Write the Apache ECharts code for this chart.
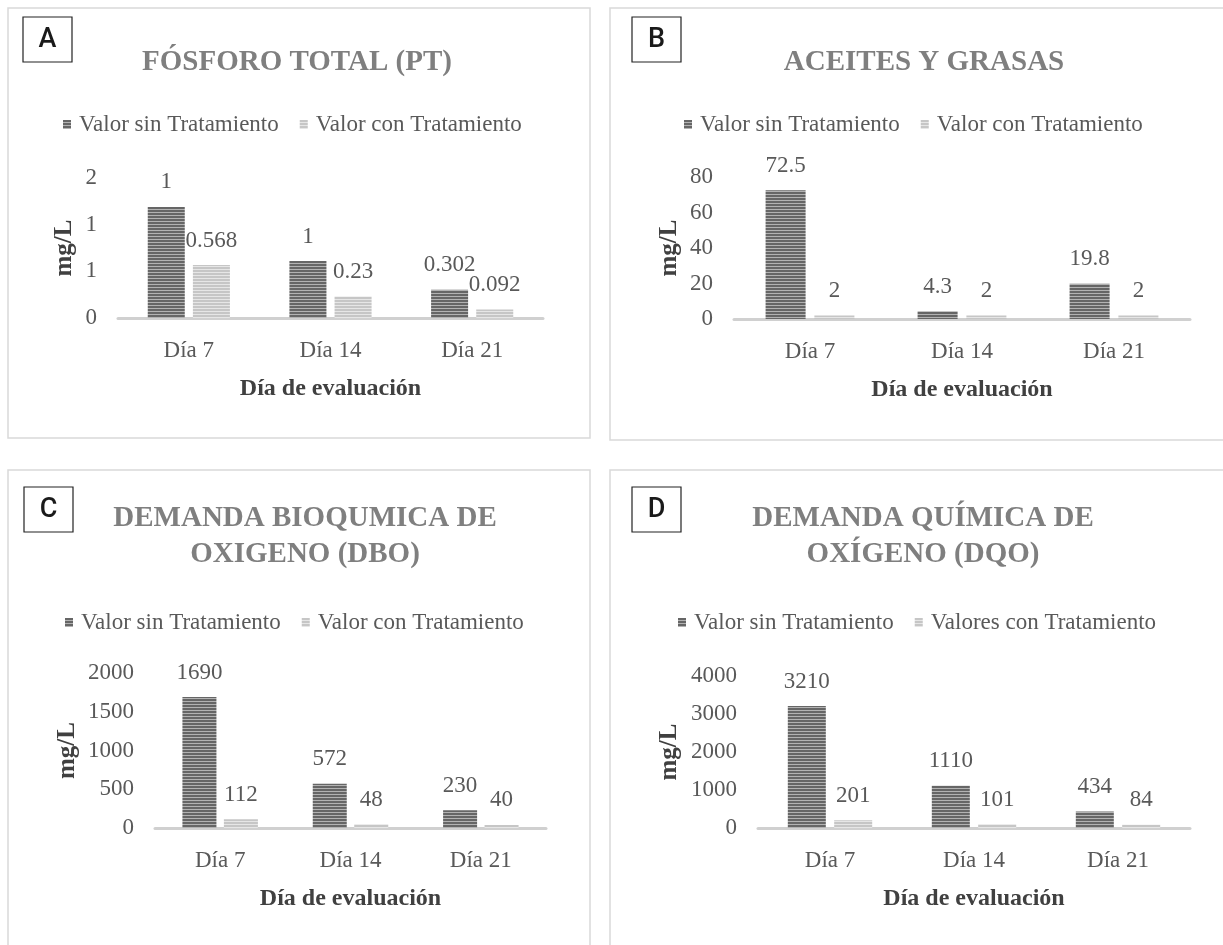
<!DOCTYPE html>
<html><head><meta charset="utf-8">
<script src="https://cdn.jsdelivr.net/npm/echarts@6/dist/echarts.min.js"></script>
<style>html,body{margin:0;padding:0;background:#fff}#c{width:1223px;height:945px}</style>
</head><body><div id="c"></div>
<script>
// ---- data ----
const categories = ['Día 7', 'Día 14', 'Día 21'];
const seriesSin = 'Valor sin Tratamiento';
const seriesCon = 'Valor con Tratamiento';
const seriesConD = 'Valores con Tratamiento';

const ptSin = [1.19, 0.61, 0.302];
const ptSinLabels = ['1', '1', '0.302'];
const ptCon = [0.568, 0.23, 0.092];
const ptTickLabels = ['0', '1', '1', '2'];

const agSin = [72.5, 4.3, 19.8];
const agCon = [2, 2, 2];

const dboSin = [1690, 572, 230];
const dboCon = [112, 48, 40];

const dqoSin = [3210, 1110, 434];
const dqoCon = [201, 101, 84];

const titles = ['FÓSFORO TOTAL (PT)', 'ACEITES Y GRASAS', 'DEMANDA BIOQUMICA DE\nOXIGENO (DBO)', 'DEMANDA QUÍMICA DE\nOXÍGENO (DQO)'];
const letters = ['A', 'B', 'C', 'D'];
const yName = 'mg/L';
const xName = 'Día de evaluación';

// ---- styles ----
function stripes(c1, c2) {
  const cv = document.createElement('canvas');
  cv.width = 4; cv.height = 3;
  const g = cv.getContext('2d');
  g.fillStyle = c1; g.fillRect(0, 0, 4, 2);
  g.fillStyle = c2; g.fillRect(0, 2, 4, 1);
  return { image: cv, repeat: 'repeat' };
}
const darkFill = stripes('#666666', '#b2b2b2');
const lightFill = stripes('#c6c6c6', '#e6e6e6');
const SERIF = '"Liberation Serif", "Times New Roman", serif';
const txt = '#595959';

const panels = [
  { grid: { left: 118, width: 425, top: 178, height: 140 }, max: 1.5, interval: 0.5, yGap: 41, barW: 37,
    title: { x: 292, y: 40 }, legend: { left: 58, top: 108 }, letter: { x: 23, y: 17 }, border: { x: 8, y: 8, w: 582, h: 430 } },
  { grid: { left: 734, width: 456, top: 177, height: 142 }, max: 80, interval: 20, yGap: 52, barW: 40,
    title: { x: 919, y: 40 }, legend: { left: 679, top: 108 }, letter: { x: 632, y: 17 }, border: { x: 610, y: 8, w: 640, h: 432 } },
  { grid: { left: 155, width: 391, top: 673, height: 155 }, max: 2000, interval: 500, yGap: 75, barW: 34,
    title: { x: 300, y: 496 }, legend: { left: 60, top: 606 }, letter: { x: 24, y: 487 }, border: { x: 8, y: 470, w: 582, h: 520 } },
  { grid: { left: 758, width: 432, top: 676, height: 152 }, max: 4000, interval: 1000, yGap: 76, barW: 38,
    title: { x: 918, y: 496 }, legend: { left: 673, top: 606 }, letter: { x: 632, y: 487 }, border: { x: 610, y: 470, w: 640, h: 520 } }
];
const dataSets = [
  [ptSin, ptCon, seriesCon],
  [agSin, agCon, seriesCon],
  [dboSin, dboCon, seriesCon],
  [dqoSin, dqoCon, seriesConD]
];

const option = {
  animation: false,
  backgroundColor: '#fff',
  title: [], legend: [], grid: [], xAxis: [], yAxis: [], series: [], graphic: []
};

panels.forEach((p, i) => {
  const b = p.border;
  option.graphic.push({ type: 'rect', shape: { x: b.x, y: b.y, width: b.w, height: b.h },
    style: { fill: 'none', stroke: '#d9d9d9', lineWidth: 1.5 }, z: -1 });
  option.graphic.push({ type: 'rect', shape: { x: p.letter.x, y: p.letter.y, width: 49, height: 45 },
    style: { fill: '#fff', stroke: '#222', lineWidth: 1.2 } });
  option.graphic.push({ type: 'text', x: p.letter.x + 24.5, y: p.letter.y + 23,
    style: { text: letters[i], font: '500 27px Roboto, "Noto Sans", sans-serif', fill: '#1a1a1a', textAlign: 'center', textVerticalAlign: 'middle' } });

  option.title.push({ text: titles[i], left: p.title.x, top: p.title.y, textAlign: 'center',
    textStyle: { fontFamily: SERIF, fontWeight: 'bold', fontSize: 29, color: '#7f7f7f', lineHeight: 36 } });

  const [sin, con, conName] = dataSets[i];
  option.legend.push({ data: [seriesSin, conName], left: p.legend.left, top: p.legend.top,
    itemWidth: 8, itemHeight: 9, itemGap: 21, icon: 'rect', selectedMode: false,
    textStyle: { fontFamily: SERIF, fontSize: 23, color: txt, padding: [0, 0, 0, 3] } });

  option.grid.push(Object.assign({ containLabel: false }, p.grid));
  option.xAxis.push({ type: 'category', gridIndex: i, data: categories,
    axisLine: { lineStyle: { color: '#d0d0d0', width: 3 } }, axisTick: { show: false },
    axisLabel: { fontFamily: SERIF, fontSize: 23, color: txt, margin: 21 },
    name: xName, nameLocation: 'middle', nameGap: 59,
    nameTextStyle: { fontFamily: SERIF, fontWeight: 'bold', fontSize: 24, color: '#404040' } });
  option.yAxis.push({ type: 'value', gridIndex: i, min: 0, max: p.max, interval: p.interval,
    axisLine: { show: false }, axisTick: { show: false }, splitLine: { show: false },
    axisLabel: { fontFamily: SERIF, fontSize: 23, color: txt, margin: 21, padding: [8, 0, 0, 0],
      formatter: i === 0 ? ((v, idx) => ptTickLabels[idx]) : (v => String(v)) },
    name: yName, nameLocation: 'middle', nameGap: p.yGap, nameRotate: 90,
    nameTextStyle: { fontFamily: SERIF, fontWeight: 'bold', fontSize: 25, color: '#404040' } });

  const lbl = { show: true, position: 'top', distance: 13, fontFamily: SERIF, fontSize: 23, color: txt };
  option.series.push({ type: 'bar', name: seriesSin, xAxisIndex: i, yAxisIndex: i, data: sin,
    barWidth: p.barW, barGap: '22%', itemStyle: { color: darkFill },
    label: i === 0 ? Object.assign({}, lbl, { formatter: (pr) => ptSinLabels[pr.dataIndex] }) : lbl });
  option.series.push({ type: 'bar', name: conName, xAxisIndex: i, yAxisIndex: i, data: con,
    barWidth: p.barW, barGap: '22%', itemStyle: { color: lightFill }, label: lbl });
});

const chart = echarts.init(document.getElementById('c'), null, { renderer: 'canvas' });
chart.setOption(option);
</script>
</body></html>
